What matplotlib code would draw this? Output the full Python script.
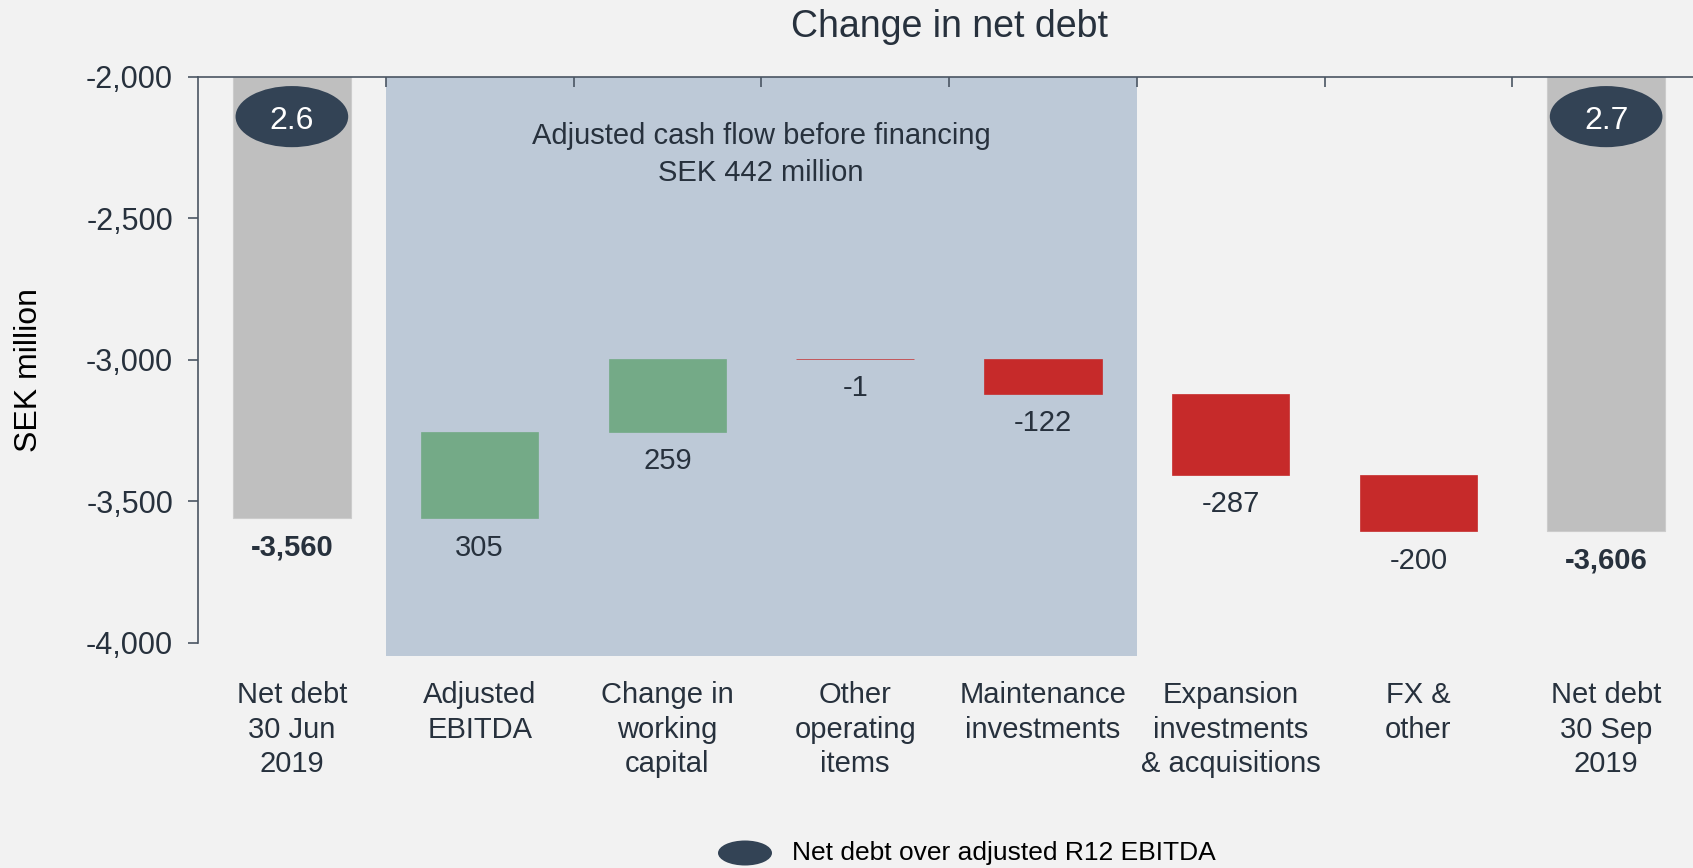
import matplotlib
matplotlib.use("Agg")
import matplotlib.pyplot as plt
from matplotlib.patches import Ellipse
from matplotlib.ticker import FuncFormatter, FixedLocator

plt.rcParams['font.family'] = ['Liberation Sans', 'DejaVu Sans']

# ---------------- data ----------------
categories = ["Net debt\n30 Jun\n2019", "Adjusted\nEBITDA", "Change in\nworking\ncapital",
              "Other\noperating\nitems", "Maintenance\ninvestments",
              "Expansion\ninvestments\n& acquisitions", "FX &\nother", "Net debt\n30 Sep\n2019"]
start_net_debt = -3560
changes = [305, 259, -1, -122, -287, -200]
end_net_debt = -3606
ratios = [2.6, 2.7]
y_ticks = [-2000, -2500, -3000, -3500, -4000]
title = "Change in net debt"
ylabel = "SEK million"
box_text = "Adjusted cash flow before financing\nSEK 442 million"
legend_text = "Net debt over adjusted R12 EBITDA"

# ---------------- style ----------------
BG = "#f2f2f2"
GRAY = "#bfbfbf"
GREEN = "#74aa87"
RED = "#c62a2a"
SHADE = "#bdc9d7"
NAVY = "#334355"
TXT = "#27313d"
TOP = -2000
BOTTOM = -4046

fig = plt.figure(figsize=(16.93, 8.68), dpi=100, facecolor=BG)
ax = fig.add_axes([198 / 1693, 212 / 868, 1502 / 1693, (656 - 77) / 868])
ax.set_facecolor(BG)
ax.set_xlim(-0.5, len(categories) - 0.5)
ax.set_ylim(BOTTOM, TOP)

# shaded region (cash flow before financing: categories 1..4)
ax.axvspan(0.5, 4.5, ymin=0, ymax=1, color=SHADE, lw=0, zorder=0)
ax.text(2.5, -2275, box_text, ha="center", va="center", fontsize=21, color=TXT,
        linespacing=1.4, zorder=3)

W = 0.625
label_off = -21  # points below bar bottom

def add_label(x, y, s, bold=False):
    ax.annotate(s, (x, y), xytext=(0, label_off), textcoords="offset points",
                ha="center", va="center", fontsize=21, color=TXT,
                fontweight="bold" if bold else "normal", zorder=4)

# start total
ax.bar(0, start_net_debt - TOP, bottom=TOP, width=W, color=GRAY, edgecolor="#cccccc",
       lw=0.8, zorder=2)
add_label(0, start_net_debt, f"{start_net_debt:,}", bold=True)

running = start_net_debt
for i, c in enumerate(changes, start=1):
    col = GREEN if c > 0 else RED
    ax.bar(i, c, bottom=running, width=W, color=col, edgecolor=col, lw=0.5, zorder=2)
    low = min(running, running + c)
    add_label(i, low, f"{c:,}")
    running += c

n = len(categories) - 1
ax.bar(n, end_net_debt - TOP, bottom=TOP, width=W, color=GRAY, edgecolor="#cccccc",
       lw=0.8, zorder=2)
add_label(n, end_net_debt, f"{end_net_debt:,}", bold=True)

# ratio ellipses
for x, r in zip([0, n], ratios):
    ax.add_patch(Ellipse((x, -2140), width=0.6, height=216, facecolor=NAVY,
                         edgecolor="none", zorder=5))
    ax.text(x, -2155, f"{r}", ha="center", va="center", fontsize=23, color="white",
            zorder=6)

# axes styling
for s in ["right", "bottom"]:
    ax.spines[s].set_visible(False)
ax.spines["top"].set_color("#4a5563")
ax.spines["top"].set_linewidth(1.2)
ax.spines["left"].set_color("#4a5563")
ax.spines["left"].set_linewidth(1.2)
ax.spines["left"].set_bounds(-4000, -2000)

ax.yaxis.set_major_locator(FixedLocator(y_ticks))
ax.yaxis.set_major_formatter(FuncFormatter(lambda v, p: f"{int(v):,}"))
ax.tick_params(axis="y", direction="out", length=7, width=1.2, color="#4a5563",
               labelsize=22, labelcolor=TXT, pad=11)

ax.xaxis.set_ticks_position("top")
ax.set_xticks([i + 0.5 for i in range(len(categories) - 1)])
ax.set_xticklabels([])
ax.tick_params(axis="x", direction="in", length=7, width=1.2, color="#4a5563")

# category labels below
for i, cat in enumerate(categories):
    ax.text(i, -4135, cat, ha="center", va="top", fontsize=21, color=TXT,
            linespacing=1.3)

ax.set_title(title, fontsize=27, color=TXT, pad=29)
fig.text(29 / 1693, 1 - 370 / 868, ylabel, rotation=90, ha="center", va="center",
         fontsize=23, color="black")

# legend
fig.add_artist(Ellipse((745 / 1693, 1 - 853 / 868), width=54 / 1693, height=25 / 868,
                       transform=fig.transFigure, facecolor=NAVY, edgecolor="none"))
fig.text(792 / 1693, 1 - 853 / 868, legend_text, ha="left", va="center", fontsize=19,
         color="black")

fig.savefig("out.png", dpi=100, facecolor=BG)
